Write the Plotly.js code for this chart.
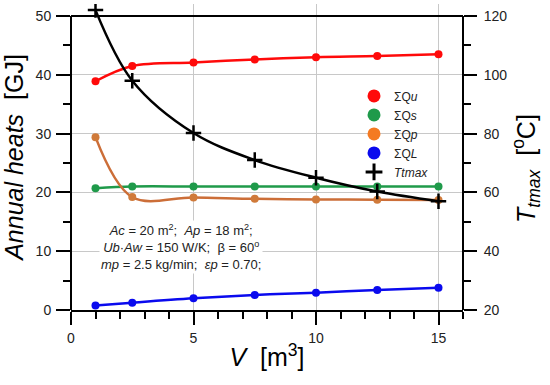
<!DOCTYPE html>
<html>
<head>
<meta charset="utf-8">
<script src="https://cdn.plot.ly/plotly-3.0.1.min.js"></script>
<style>html,body{margin:0;padding:0;background:#fff;}#chart{width:550px;height:385px;}</style>
</head>
<body>
<div id="chart"></div>
<script>
const volume = [1, 2.5, 5, 7.5, 10, 12.5, 15];
const sumQu = [38.9, 41.5, 42.1, 42.6, 43.0, 43.2, 43.5];
const sumQs = [20.7, 21.0, 21.0, 21.0, 21.0, 21.0, 21.0];
const sumQp = [29.4, 19.2, 19.15, 18.9, 18.8, 18.75, 18.7];
const sumQL = [0.75, 1.25, 2.0, 2.55, 2.95, 3.4, 3.8];
const tTmax = [122, 98, 80.2, 71, 65, 60.3, 57];

const legendNames = ['ΣQ<i>u</i>', 'ΣQ<i>s</i>', 'ΣQ<i>p</i>', 'ΣQ<i>L</i>', '<i>Ttmax</i>'];

const cRed = '#ff0a0a', cGreen = '#1f9a4a', cOrange = '#cc6e38', cBlue = '#0a0aee';

function series(y, color, mcolor) {
  return {x: volume, y: y, mode: 'lines+markers', type: 'scatter', showlegend: false,
    line: {color: color, width: 2.5, shape: 'spline', smoothing: 1},
    marker: {color: mcolor || color, size: 8}};
}

const traces = [
  series(sumQu, cRed),
  series(sumQs, cGreen),
  series(sumQp, cOrange, '#d07a3a'),
  series(sumQL, cBlue),
  {x: volume, y: tTmax, yaxis: 'y2', mode: 'lines+markers', type: 'scatter', showlegend: false,
   line: {color: '#000', width: 2.5, shape: 'spline', smoothing: 1},
   marker: {symbol: 'cross-thin', size: 11, line: {color: '#000', width: 2.5}}},
  {x: [null], y: [null], mode: 'markers', name: legendNames[0], marker: {color: '#ff0a0a', size: 13}},
  {x: [null], y: [null], mode: 'markers', name: legendNames[1], marker: {color: '#1f9a4a', size: 13}},
  {x: [null], y: [null], mode: 'markers', name: legendNames[2], marker: {color: '#f47a22', size: 13}},
  {x: [null], y: [null], mode: 'markers', name: legendNames[3], marker: {color: '#0a0aee', size: 13}},
  {x: [null], y: [null], mode: 'markers', name: legendNames[4], marker: {symbol: 'cross-thin', size: 12, color: '#000', line: {color: '#000', width: 3}}}
];

const fam = 'Liberation Sans, Arial, sans-serif';
const tickFont = {family: fam, size: 14, color: '#222'};
const titleFont = {family: fam, size: 25, color: '#000'};

// y-range slightly extended above 50 so the first Ttmax point (above 120 °C) is drawn;
// frame lines are drawn to the 50 / 120 level like the reference.
const yTop = 52.04;

const frame = {color: '#000', width: 2};
const layout = {
  width: 550, height: 385,
  margin: {l: 71, r: 87, t: 4, b: 75, pad: 0},
  paper_bgcolor: '#fff', plot_bgcolor: '#fff',
  showlegend: true,
  legend: {x: 0.722, y: 0.747, xanchor: 'left', yanchor: 'top', bgcolor: 'rgba(0,0,0,0)',
    font: {family: fam, size: 12, color: '#222'},
    itemsizing: 'trace', tracegroupgap: 0},
  xaxis: {range: [0, 16], tickvals: [0, 5, 10, 15], ticks: 'outside', ticklen: 13, tickwidth: 2,
    tickcolor: '#000', showline: true, linecolor: '#000', linewidth: 2,
    showgrid: true, gridcolor: '#c8c8c8', gridwidth: 1, zeroline: false,
    minor: {dtick: 1, ticks: 'outside', ticklen: 7, tickwidth: 2, tickcolor: '#000', showgrid: false},
    tickfont: tickFont, ticklabelstandoff: 1,
    title: {text: '<i>V</i>  [m<sup>3</sup>]', font: titleFont, standoff: 4}},
  yaxis: {range: [0, yTop], tickvals: [0, 10, 20, 30, 40, 50], ticks: 'outside', ticklen: 14, tickwidth: 2,
    tickcolor: '#000', showline: false,
    showgrid: true, gridcolor: '#c8c8c8', gridwidth: 1, zeroline: false,
    minor: {tickvals: [5, 15, 25, 35, 45], ticks: 'outside', ticklen: 7, tickwidth: 2, tickcolor: '#000', showgrid: false},
    tickfont: tickFont, ticklabelstandoff: 2,
    title: {text: '<i>Annual heats</i>  [GJ]', font: titleFont, standoff: 10}},
  yaxis2: {range: [20, 20 + 2 * yTop], overlaying: 'y', side: 'right', tickvals: [20, 40, 60, 80, 100, 120],
    ticks: 'outside', ticklen: 13, tickwidth: 2, tickcolor: '#000', showline: false,
    showgrid: false, zeroline: false,
    minor: {tickvals: [30, 50, 70, 90, 110], ticks: 'outside', ticklen: 7, tickwidth: 2, tickcolor: '#000', showgrid: false},
    tickfont: tickFont, ticklabelstandoff: 4},
  shapes: [
    {type: 'rect', xref: 'paper', yref: 'paper', x0: 0.73, x1: 0.921, y0: 0.44, y1: 0.735,
     fillcolor: '#fff', line: {width: 0}, layer: 'between'},
    {type: 'line', xref: 'paper', yref: 'y', x0: 0, x1: 0, y0: 0, y1: 50, line: frame, layer: 'above'},
    {type: 'line', xref: 'paper', yref: 'y', x0: 1, x1: 1, y0: 0, y1: 50, line: frame, layer: 'above'},
    {type: 'line', xref: 'paper', yref: 'y', x0: 0, x1: 1, y0: 50, y1: 50, line: frame, layer: 'above'}
  ],
  annotations: [{
    xref: 'x', yref: 'y', x: 4.5, y: 10.8, xanchor: 'center', yanchor: 'middle', showarrow: false,
    bgcolor: '#fff', align: 'center',
    font: {family: fam, size: 13, color: '#222'},
    text: '<i>Ac</i> = 20 m<sup>2</sup>;  <i>Ap</i> = 18 m<sup>2</sup>;<br><i>Ub</i>·<i>Aw</i> = 150 W/K;  β = 60<sup>o</sup><br><i>mp</i> = 2.5 kg/min;  <i>εp</i> = 0.70;'
  }, {
    xref: 'paper', yref: 'paper', x: 1, y: 0.461, xshift: 63, xanchor: 'center', yanchor: 'middle',
    showarrow: false, textangle: -90, font: titleFont,
    text: '<i>T</i><sub><i>tmax</i></sub>  [<sup>o</sup>C]'
  }]
};

Plotly.newPlot('chart', traces, layout, {displayModeBar: false, staticPlot: true});
</script>
</body>
</html>
